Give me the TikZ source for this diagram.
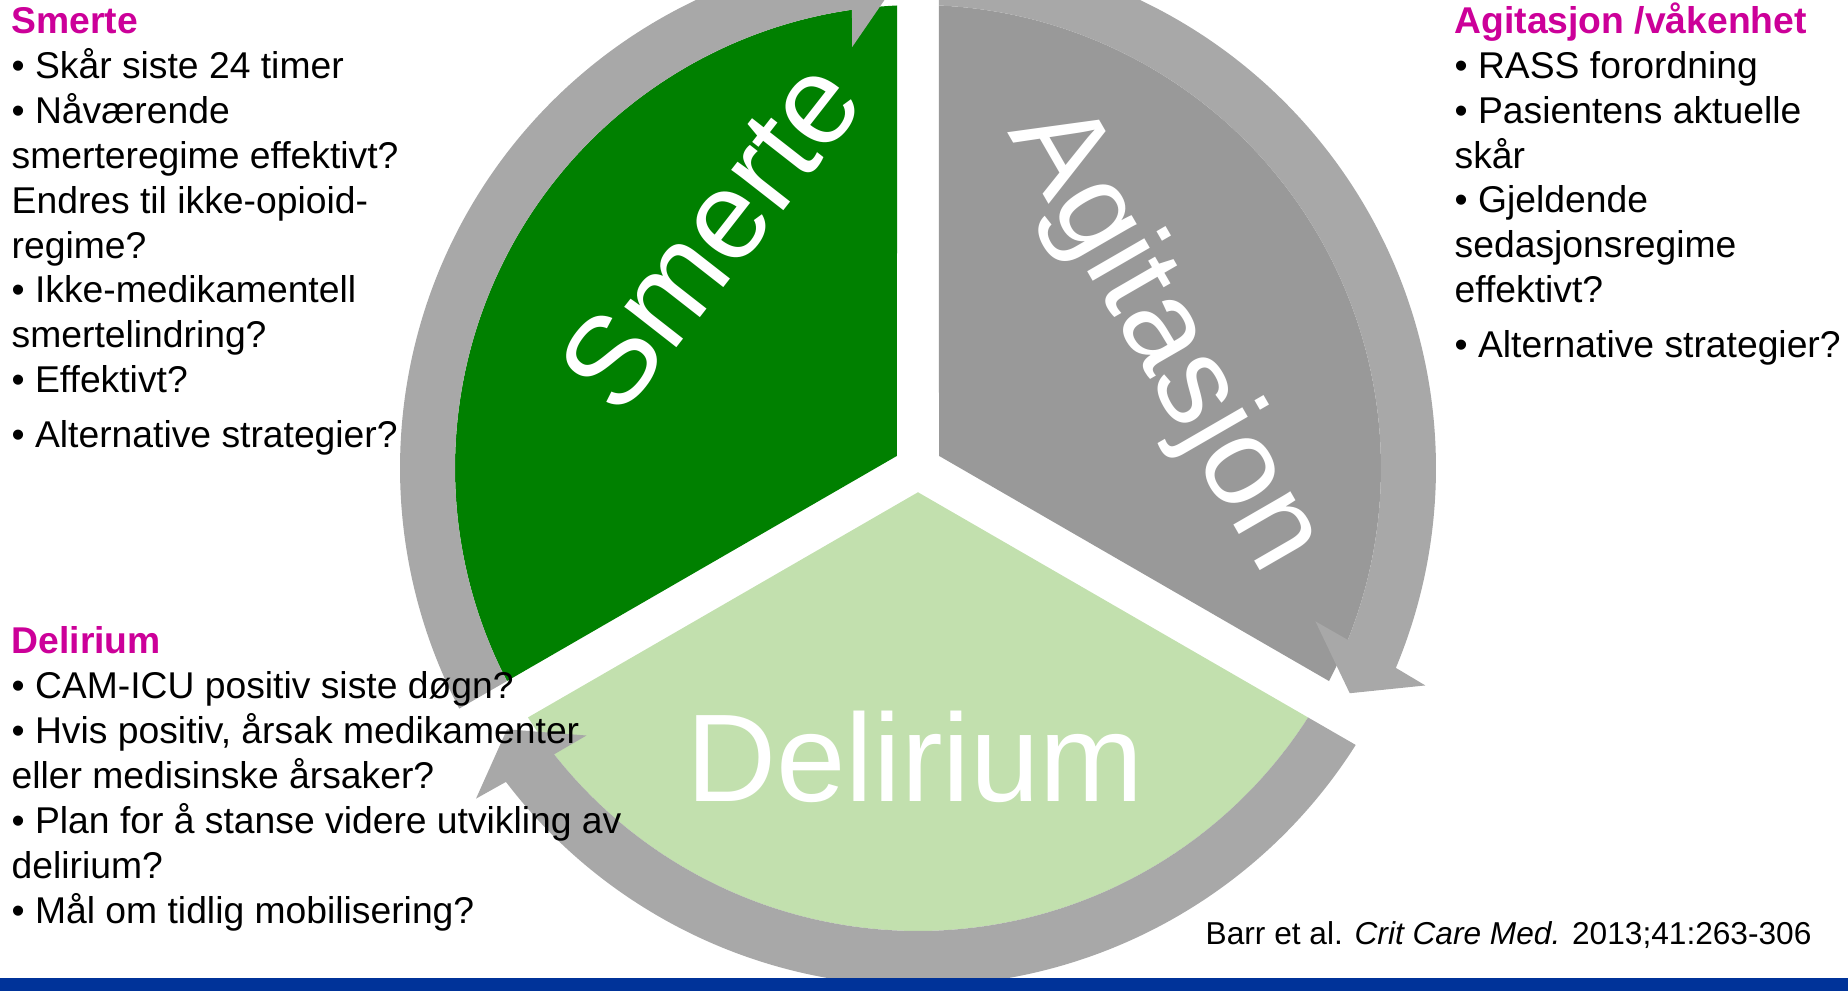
\documentclass[tikz,border=0pt]{standalone}
\usepackage{fontspec}
\setmainfont{Liberation Sans}
\definecolor{smertegreen}{RGB}{0,128,0}
\definecolor{agitgray}{RGB}{153,153,153}
\definecolor{delirgreen}{RGB}{194,224,174}
\definecolor{ringgray}{RGB}{168,168,168}
\definecolor{headmag}{RGB}{204,0,153}
\definecolor{barblue}{RGB}{0,51,153}
\newcommand{\headc}[1]{{\color{headmag}\bfseries #1}}

\begin{document}
\begin{tikzpicture}[x=0.01cm,y=0.01cm,
    sidetext/.style={anchor=base west, align=left, inner sep=0pt,
        font=\fontsize{10.6}{12.75}\selectfont},
    segtext/.style={text=white, inner sep=0pt,
        font=\fontsize{35.5}{35.5}\selectfont},
    ringarrow/.style={fill=ringgray}]
                    \useasboundingbox (-918,-523) rectangle (930,468);

                    %smerte sector
                    \fill[smertegreen] (150:24.25) -- (92.6:463)
                        arc[start angle=92.6, end angle=207.4, radius=463] -- cycle;
                    %agitasjon sector
                    \fill[agitgray] (30:24.25) -- (-27.4:463)
                        arc[start angle=-27.4, end angle=87.4, radius=463] -- cycle;
                    %delirium sector
                    \fill[delirgreen] (270:24.25) -- (212.6:463)
                        arc[start angle=212.6, end angle=327.4, radius=463] -- cycle;

                    %smerte arrow
                    \fill[ringarrow] (207.68:518)
                        arc[start angle=207.68, end angle=97.3, radius=518]
                        -- (96.8:552) -- (92.45:487) -- (98.9:426) -- (98.2:463)
                        arc[start angle=98.2, end angle=207.4, radius=463] -- cycle;
                    %agitasjon arrow
                    \fill[ringarrow] (87.68:518)
                        arc[start angle=87.68, end angle=-22.7, radius=518]
                        -- (-23.2:552) -- (-27.55:487) -- (-21.1:426) -- (-21.8:463)
                        arc[start angle=-21.8, end angle=87.4, radius=463] -- cycle;
                    %delirium arrow
                    \fill[ringarrow] (-32.32:518)
                        arc[start angle=-32.32, end angle=-142.7, radius=518]
                        -- (-143.2:552) -- (-147.55:487) -- (-141.1:426) -- (-141.8:463)
                        arc[start angle=-141.8, end angle=-32.6, radius=463] -- cycle;

                    %sector labels
                    \node[segtext, rotate=52] (smerteseg) at (-208,233) {Smerte};
                    \node[segtext, rotate=-60] (agitseg) at (246,129) {Agitasjon};
                    \node[segtext] (delirseg) at (-3,-289) {Delirium};

                    %smerte questions
                    \node[sidetext] (smertetxt) at (-907,20) {\headc{Smerte}\\
                        • Skår siste 24 timer\\
                        • Nåværende\\
                        smerteregime effektivt?\\
                        Endres til ikke-opioid-\\
                        regime?\\
                        • Ikke-medikamentell\\
                        smertelindring?\\
                        • Effektivt?\\[3pt]
                        • Alternative strategier?};

                    %agitasjon questions
                    \node[sidetext] (agittxt) at (536,110) {\headc{Agitasjon /våkenhet}\\
                        • RASS forordning\\
                        • Pasientens aktuelle\\
                        skår\\
                        • Gjeldende\\
                        sedasjonsregime\\
                        effektivt?\\[3pt]
                        • Alternative strategier?};

                    %delirium questions
                    \node[sidetext] (delirtxt) at (-907,-455) {\headc{Delirium}\\
                        • CAM-ICU positiv siste døgn?\\
                        • Hvis positiv, årsak medikamenter\\
                        eller medisinske årsaker?\\
                        • Plan for å stanse videre utvikling av\\
                        delirium?\\
                        • Mål om tidlig mobilisering?};

                    %reference
                    \node[anchor=base west, inner sep=0pt,
                        font=\fontsize{9}{11}\selectfont] (cite) at (287,-476)
                        {Barr et al. \textit{Crit Care Med.} 2013;41:263-306};

                    %bottom bar
                    \fill[barblue] (-918,-510) rectangle (930,-523);
                \end{tikzpicture}
\end{document}
